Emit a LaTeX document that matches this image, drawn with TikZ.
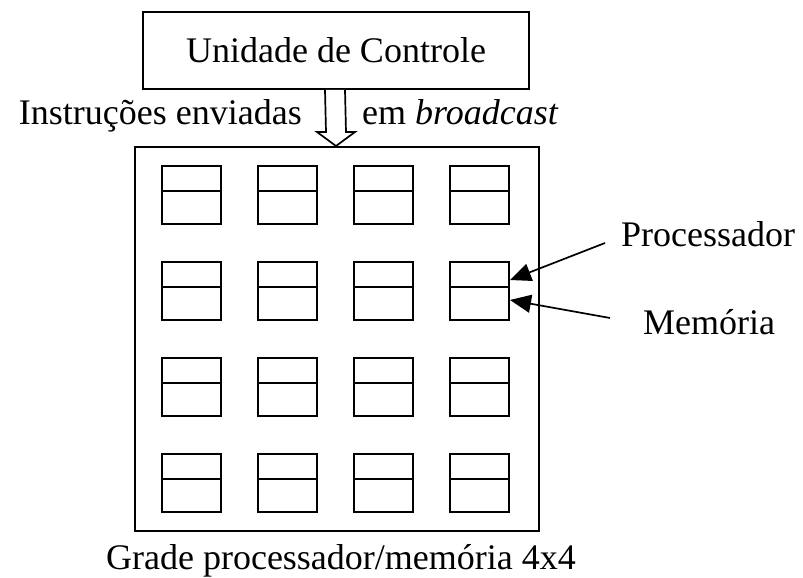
\documentclass[tikz,border=0pt]{standalone}
\usepackage{fontspec}
\setmainfont{Liberation Serif}
\usetikzlibrary{arrows.meta, positioning, calc}

\begin{document}
\begin{tikzpicture}[x=1pt,y=1pt,
    font=\fontsize{36}{43}\selectfont,
    caixa/.style={draw,line width=2pt,inner sep=0pt},
    celula/.style={draw,line width=2pt,minimum width=59pt,minimum height=58pt,inner sep=0pt},
    rotulo/.style={inner sep=0pt},
    seta/.style={-{Triangle[length=21pt,width=18pt]},line width=1.7pt}]
	\useasboundingbox (0,0) rectangle (803,578);
	% unidade de controle e grade
	\node[caixa,minimum width=386pt,minimum height=77pt] (controle) at (336,527.5) {Unidade de Controle};
	\node[caixa,minimum width=404pt,minimum height=384pt] (grade) at (337,239) {};
	% 4x4 celulas processador/memoria
	\foreach \r in {0,...,3}
		\foreach \c in {0,...,3}{
			\node[celula] (cel-\r-\c) at (191.5+96*\c,382.5-96*\r) {};
			\draw[line width=2pt] ($(cel-\r-\c.west)+(0,4)$) to ($(cel-\r-\c.east)+(0,4)$);
		}
	% seta vazada do broadcast
	\draw[line width=1.7pt,fill=white,line join=miter]
		($(controle.south)+(-11,0)$) -- ($(grade.north)+(-11,14)$) -- ($(grade.north)+(-20,14)$)
		-- ($(grade.north)+(-1,0)$) -- ($(grade.north)+(18,14)$) -- ($(grade.north)+(9,14)$)
		-- ($(controle.south)+(9,0)$);
	\node[rotulo,anchor=base east] (instr) at (302,453) {Instruções enviadas};
	\node[rotulo,anchor=base west] (bcast) at (362,453) {em \textit{broadcast}};
	% rotulos da direita
	\node[rotulo,anchor=base west] (proc) at (621,331) {Processador};
	\node[rotulo,anchor=base west] (mem) at (643,243) {Memória};
	\coordinate (proc-pe) at (605,335);
	\coordinate (mem-pe) at (610,260);
	\draw[seta] (proc-pe) to ($(cel-1-3.east)+(0,11.5)$);
	\draw[seta] (mem-pe) to ($(cel-1-3.east)+(0,-8.5)$);
	\node[rotulo,anchor=base] (legenda) at (341,8) {Grade processador/memória 4x4};
\end{tikzpicture}
\end{document}
